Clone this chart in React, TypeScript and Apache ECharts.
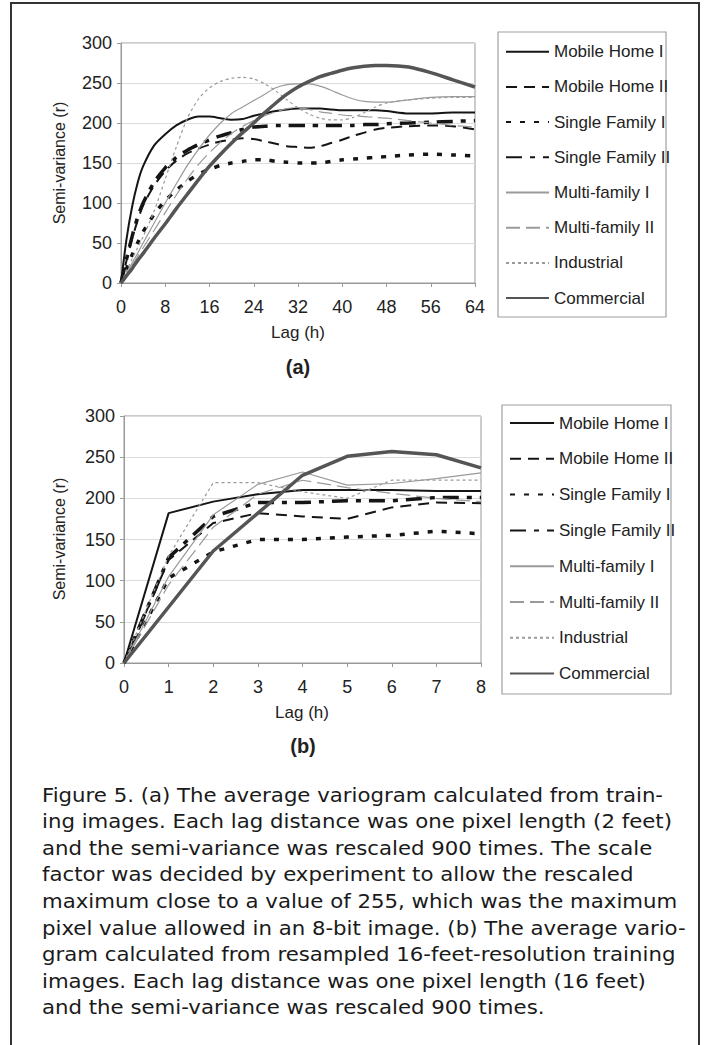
import React, { useEffect, useRef } from "react";
import * as echarts from "echarts";

// ---------- data ----------
const seriesNames = [
  "Mobile Home I",
  "Mobile Home II",
  "Single Family I",
  "Single Family II",
  "Multi-family I",
  "Multi-family II",
  "Industrial",
  "Commercial",
];

// (a) 2-feet resolution, lag 0..64
const lagA = [0, 1, 2, 3, 4, 6, 8, 10, 12, 14, 16, 18, 20, 22, 24, 26, 28, 30, 32, 34, 36, 38, 40, 42, 44, 46, 48, 52, 56, 60, 64];
const mobileHomeIA = [0, 55, 95, 125, 146, 172, 186, 197, 204, 208, 208, 206, 204, 205, 209, 212, 215, 217, 218, 218, 218, 217, 216, 216, 216, 216, 215, 212, 212, 213, 213];
const mobileHomeIIA = [0, 28, 55, 78, 97, 122, 140, 153, 162, 168, 173, 177, 179, 181, 180, 177, 174, 171, 170, 169, 171, 175, 179, 184, 188, 192, 194, 196, 197, 196, 192];
const singleFamilyIA = [0, 18, 35, 50, 64, 86, 103, 116, 127, 136, 142, 147, 150, 152, 154, 154, 152, 151, 150, 150, 150, 152, 154, 155, 156, 157, 158, 160, 161, 160, 159];
const singleFamilyIIA = [0, 30, 58, 82, 100, 126, 144, 157, 166, 173, 179, 184, 188, 192, 195, 196, 197, 197, 197, 197, 197, 197, 197, 197, 198, 198, 199, 200, 201, 202, 203];
const multiFamilyIA = [0, 12, 25, 37, 50, 75, 100, 124, 147, 167, 185, 200, 212, 220, 228, 236, 244, 248, 249, 249, 246, 241, 235, 230, 227, 226, 226, 229, 232, 233, 233];
const multiFamilyIIA = [0, 11, 22, 33, 44, 66, 88, 110, 130, 148, 163, 176, 187, 196, 203, 209, 214, 218, 219, 217, 214, 212, 210, 209, 208, 207, 206, 203, 200, 197, 195];
const industrialA = [0, 15, 30, 44, 58, 90, 130, 170, 206, 230, 244, 252, 256, 257, 255, 249, 240, 229, 219, 211, 206, 204, 204, 207, 213, 220, 225, 229, 231, 232, 232];
const commercialA = [0, 9, 18, 28, 37, 56, 74, 93, 111, 129, 146, 161, 175, 188, 200, 213, 225, 236, 245, 252, 258, 262, 266, 269, 271, 272, 272, 270, 263, 254, 245];

// (b) 16-feet resolution, lag 0..8
const lagB = [0, 1, 2, 3, 4, 5, 6, 7, 8];
const mobileHomeIB = [0, 182, 196, 205, 210, 210, 210, 209, 209];
const mobileHomeIIB = [0, 125, 170, 182, 178, 175, 189, 195, 194];
const singleFamilyIB = [0, 103, 135, 150, 150, 153, 155, 160, 157];
const singleFamilyIIB = [0, 128, 178, 195, 195, 197, 197, 201, 201];
const multiFamilyIB = [0, 105, 180, 217, 232, 216, 218, 224, 231];
const multiFamilyIIB = [0, 95, 165, 205, 222, 213, 206, 200, 196];
const industrialB = [0, 130, 219, 219, 208, 200, 222, 222, 222];
const commercialB = [0, 68, 136, 182, 228, 251, 257, 253, 237];

const valuesA = [mobileHomeIA, mobileHomeIIA, singleFamilyIA, singleFamilyIIA, multiFamilyIA, multiFamilyIIA, industrialA, commercialA];
const valuesB = [mobileHomeIB, mobileHomeIIB, singleFamilyIB, singleFamilyIIB, multiFamilyIB, multiFamilyIIB, industrialB, commercialB];

const captionLines = [
  "Figure 5. (a) The average variogram calculated from train-",
  "ing images. Each lag distance was one pixel length (2 feet)",
  "and the semi-variance was rescaled 900 times. The scale",
  "factor was decided by experiment to allow the rescaled",
  "maximum close to a value of 255, which was the maximum",
  "pixel value allowed in an 8-bit image. (b) The average vario-",
  "gram calculated from resampled 16-feet-resolution training",
  "images. Each lag distance was one pixel length (16 feet)",
  "and the semi-variance was rescaled 900 times.",
];

// ---------- styles ----------
const lineStyles = [
  { color: "#151515", width: 2, type: "solid" },
  { color: "#151515", width: 2, type: [11, 7] },
  { color: "#151515", width: 3.5, type: [5, 9] },
  { color: "#151515", width: 3.5, type: [16, 8, 5, 8] },
  { color: "#9a9a9a", width: 1.2, type: "solid" },
  { color: "#9a9a9a", width: 1.2, type: [14, 6] },
  { color: "#9a9a9a", width: 1.2, type: [3, 3] },
  { color: "#555555", width: 3.5, type: "solid" },
];

const FONT = "'Liberation Sans', Arial, Helvetica, sans-serif";
const TEXT = "#222";

function makeAxes(gridIndex: number, max: number, interval: number) {
  const x = {
    type: "value",
    gridIndex,
    min: 0,
    max,
    interval,
    axisLine: { show: true, lineStyle: { color: "#999", width: 1 } },
    axisTick: { show: true, length: 4, inside: false, lineStyle: { color: "#999" } },
    axisLabel: { fontSize: 18, fontFamily: FONT, color: TEXT, margin: 15 },
    splitLine: { show: false },
  };
  const y = {
    type: "value",
    gridIndex,
    min: 0,
    max: 300,
    interval: 50,
    axisLine: { show: true, lineStyle: { color: "#999", width: 1 } },
    axisTick: { show: true, length: 4, inside: false, lineStyle: { color: "#999" } },
    axisLabel: { fontSize: 18, fontFamily: FONT, color: TEXT, margin: 9 },
    splitLine: { show: true, lineStyle: { color: "#dcdcdc", width: 1 } },
  };
  return { x, y };
}

export default function App() {
  const ref = useRef<HTMLDivElement>(null);

  useEffect(() => {
    document.body.style.margin = "0";
    if (!ref.current) return;
    const chart = echarts.init(ref.current, null, { renderer: "svg" });

    const axA = makeAxes(0, 64, 8);
    const axB = makeAxes(1, 8, 1);

    const series: any[] = [];
    seriesNames.forEach((name, i) => {
      series.push({
        name,
        type: "line",
        xAxisIndex: 0,
        yAxisIndex: 0,
        data: lagA.map((l, k) => [l, valuesA[i][k]]),
        symbol: "none",
        smooth: 0.25,
        lineStyle: lineStyles[i],
        itemStyle: { color: lineStyles[i].color },
        z: 2 + i,
      });
    });
    seriesNames.forEach((name, i) => {
      series.push({
        name,
        type: "line",
        xAxisIndex: 1,
        yAxisIndex: 1,
        data: lagB.map((l, k) => [l, valuesB[i][k]]),
        symbol: "none",
        smooth: false,
        lineStyle: lineStyles[i],
        itemStyle: { color: lineStyles[i].color },
        z: 2 + i,
      });
    });

    const legendCommon = {
      orient: "vertical",
      selectedMode: false,
      padding: 0,
      itemHeight: 20,
      data: seriesNames,
      itemStyle: { opacity: 0 },
      textStyle: { fontSize: 17, fontFamily: FONT, color: TEXT, lineHeight: 20 },
    };

    const centered = { align: "center", verticalAlign: "middle", textAlign: "center", textVerticalAlign: "middle" };

    const graphics: any[] = [
      {
        type: "polyline",
        shape: { points: [[11, 1045], [11, 3], [699, 3], [699, 1045]] },
        style: { stroke: "#333", lineWidth: 2, fill: "none" },
        silent: true,
      },
      {
        type: "rect",
        shape: { x: 498, y: 32, width: 168, height: 285 },
        style: { stroke: "#a0a0a0", lineWidth: 1.2, fill: "none" },
        silent: true,
      },
      {
        type: "rect",
        shape: { x: 502, y: 405, width: 169, height: 289 },
        style: { stroke: "#a0a0a0", lineWidth: 1.2, fill: "none" },
        silent: true,
      },
      {
        type: "text",
        x: 59,
        y: 163,
        rotation: Math.PI / 2,
        style: { text: "Semi-variance (r)", fontSize: 16, fontFamily: FONT, fill: TEXT, ...centered },
      },
      {
        type: "text",
        x: 59,
        y: 539,
        rotation: Math.PI / 2,
        style: { text: "Semi-variance (r)", fontSize: 16, fontFamily: FONT, fill: TEXT, ...centered },
      },
      {
        type: "text",
        x: 298,
        y: 332,
        style: { text: "Lag (h)", fontSize: 17, fontFamily: FONT, fill: TEXT, ...centered },
      },
      {
        type: "text",
        x: 302,
        y: 712,
        style: { text: "Lag (h)", fontSize: 17, fontFamily: FONT, fill: TEXT, ...centered },
      },
      {
        type: "text",
        x: 298,
        y: 367,
        style: { text: "(a)", fontSize: 20, fontWeight: "bold", fontFamily: FONT, fill: TEXT, ...centered },
      },
      {
        type: "text",
        x: 303,
        y: 746,
        style: { text: "(b)", fontSize: 20, fontWeight: "bold", fontFamily: FONT, fill: TEXT, ...centered },
      },
    ];

    captionLines.forEach((line, i) => {
      graphics.push({
        type: "text",
        x: 42,
        y: 795 + i * 26.6,
        scaleX: 1.12,
        style: {
          text: line,
          fontSize: 19,
          fontFamily: "'DejaVu Sans', Verdana, sans-serif",
          fill: "#1a1a1a",
          align: "left",
          verticalAlign: "middle",
          textAlign: "left",
          textVerticalAlign: "middle",
        },
      });
    });

    chart.setOption({
      animation: false,
      backgroundColor: "#ffffff",
      textStyle: { fontFamily: FONT },
      grid: [
        { left: 121, top: 43, width: 354, height: 240, show: true, borderColor: "#999", borderWidth: 1, backgroundColor: "transparent" },
        { left: 124, top: 416, width: 357, height: 247, show: true, borderColor: "#999", borderWidth: 1, backgroundColor: "transparent" },
      ],
      xAxis: [axA.x, axB.x],
      yAxis: [axA.y, axB.y],
      legend: [
        { ...legendCommon, left: 505, top: 41.7, itemWidth: 43, itemGap: 15.2 },
        { ...legendCommon, left: 509, top: 413, itemWidth: 44, itemGap: 15.8 },
      ],
      series,
      graphic: graphics,
    });

    return () => chart.dispose();
  }, []);

  return <div ref={ref} style={{ width: 707, height: 1045, overflow: "hidden" }} />;
}
